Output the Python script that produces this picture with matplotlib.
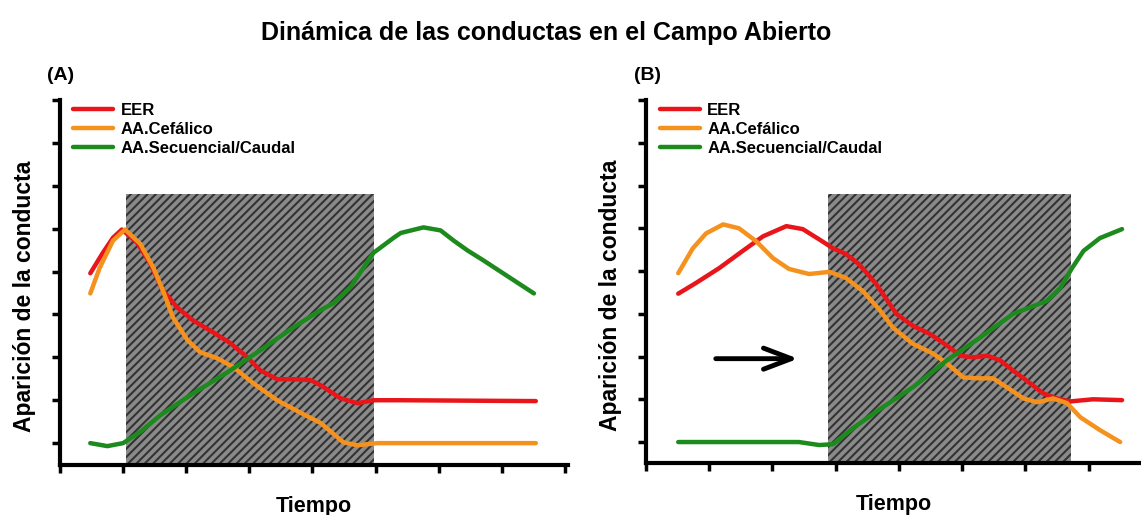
import matplotlib
matplotlib.use("Agg")
import matplotlib.pyplot as plt

plt.rcParams["font.family"] = ["Liberation Sans", "DejaVu Sans"]
plt.rcParams["font.weight"] = "bold"
plt.rcParams["hatch.linewidth"] = 1.5
plt.rcParams["hatch.color"] = "#333333"

TITLE = "Dinámica de las conductas en el Campo Abierto"
YLABEL = "Aparición de la conducta"
XLABEL = "Tiempo"
SERIES = ["EER", "AA.Cefálico", "AA.Secuencial/Caudal"]
COLORS = ["#e8161a", "#f5921e", "#1c8a1c"]

# panel (A)
a_eer_x = [0.48, 0.68, 0.84, 0.98, 1.22, 1.43, 1.63, 1.86, 2.11, 2.43, 2.70, 2.97,
           3.17, 3.44, 3.70, 3.97, 4.13, 4.44, 4.71, 4.97, 5.40, 7.54]
a_eer_y = [4.96, 5.44, 5.79, 5.98, 5.68, 5.19, 4.56, 4.16, 3.86, 3.58, 3.33, 3.00,
           2.70, 2.49, 2.49, 2.47, 2.35, 2.05, 1.93, 2.00, 2.00, 1.98]
a_cef_x = [0.48, 0.63, 0.84, 1.03, 1.27, 1.48, 1.63, 1.79, 2.02, 2.22, 2.49, 2.75,
           3.06, 3.44, 3.81, 4.13, 4.49, 4.71, 5.03, 5.40, 7.54]
a_cef_y = [4.49, 5.09, 5.72, 5.98, 5.65, 5.09, 4.56, 3.93, 3.40, 3.12, 2.98, 2.77,
           2.40, 2.00, 1.71, 1.47, 1.02, 0.95, 1.00, 1.00, 1.00]
a_sec_x = [0.48, 0.75, 1.00, 1.27, 1.59, 2.11, 2.65, 3.17, 3.70, 4.13, 4.33, 4.60,
           4.97, 5.29, 5.40, 5.76, 6.03, 6.24, 6.46, 6.71, 7.51]
a_sec_y = [1.00, 0.93, 1.00, 1.26, 1.65, 2.16, 2.65, 3.16, 3.70, 4.10, 4.26, 4.63,
           5.44, 5.79, 5.90, 6.03, 5.96, 5.72, 5.49, 5.26, 4.49]
a_span = (1.05, 4.98, 6.8)

# panel (B)
b_eer_x = [0.51, 0.79, 1.16, 1.53, 1.85, 2.22, 2.48, 2.74, 2.96, 3.16, 3.37, 3.64,
           3.96, 4.22, 4.49, 4.76, 4.97, 5.17, 5.40, 5.60, 5.81, 6.08, 6.28, 6.50,
           6.71, 7.07, 7.53]
b_eer_y = [4.47, 4.72, 5.07, 5.47, 5.81, 6.05, 5.98, 5.74, 5.53, 5.40, 5.16, 4.70,
           4.00, 3.72, 3.53, 3.26, 3.02, 2.98, 3.02, 2.91, 2.67, 2.37, 2.14, 2.02,
           1.95, 2.00, 1.98]
b_cef_x = [0.51, 0.74, 0.95, 1.22, 1.47, 1.74, 2.01, 2.26, 2.58, 2.90, 3.16, 3.43,
           3.69, 3.91, 4.22, 4.54, 4.76, 5.02, 5.28, 5.49, 5.71, 5.97, 6.19, 6.44,
           6.66, 6.87, 7.18, 7.50]
b_cef_y = [4.95, 5.53, 5.88, 6.09, 6.00, 5.70, 5.30, 5.05, 4.93, 4.98, 4.84, 4.53,
           4.10, 3.67, 3.30, 3.07, 2.84, 2.51, 2.49, 2.49, 2.28, 2.02, 1.93, 2.02,
           1.91, 1.58, 1.28, 1.00]
b_sec_x = [0.51, 1.58, 2.42, 2.74, 2.96, 3.28, 3.69, 4.22, 4.76, 5.28, 5.81, 6.34,
           6.55, 6.74, 6.92, 7.18, 7.53]
b_sec_y = [1.00, 1.00, 1.00, 0.93, 0.95, 1.33, 1.76, 2.28, 2.91, 3.44, 4.00, 4.30,
           4.60, 5.07, 5.47, 5.77, 5.98]
b_span = (2.88, 6.72, 6.8)
b_arrow = (1.06, 2.45, 2.95)

X_TICKS = list(range(0, 9))
Y_TICKS = list(range(1, 10))


def style_axes(ax, xmax, ymin, width_px, height_px):
    ax.set_xlim(0, xmax)
    ax.set_ylim(ymin, 9)
    ax.set_xticks([t for t in X_TICKS if t <= xmax])
    ax.set_yticks(Y_TICKS)
    ax.set_xticklabels([])
    ax.set_yticklabels([])
    for side in ("top", "right"):
        ax.spines[side].set_visible(False)
    for side in ("left", "bottom"):
        ax.spines[side].set_linewidth(3)
    ax.tick_params(direction="out", length=6, width=2.5)
    ax.set_xlabel(XLABEL, fontsize=15.5, fontweight="bold")
    ax.xaxis.set_label_coords(0.5, -47 / height_px)
    ax.xaxis.label.set_va("baseline")
    ax.set_ylabel(YLABEL, fontsize=16.5, fontweight="bold")
    ax.yaxis.set_label_coords(-35 / width_px, 0.463)
    ax.yaxis.label.set_va("center")


def draw_panel(ax, curves, span, label, legend_x):
    x0, x1, top = span
    ax.fill_between([x0, x1], 0, top, facecolor="#8a8a8a", hatch="////",
                    linewidth=0, zorder=1)
    for (xs, ys), name, color in zip(curves, SERIES, COLORS):
        ax.plot(xs, ys, color=color, lw=3.2, label=name, zorder=3,
                solid_capstyle="round", solid_joinstyle="round")
    ax.legend(loc="upper left", bbox_to_anchor=(legend_x, 0.992), frameon=False,
              prop={"weight": "bold", "size": 12}, handlelength=2.4,
              handletextpad=0.45, labelspacing=0.24, borderaxespad=0,
              borderpad=0)
    ax.text(-0.025, 1.068, label, transform=ax.transAxes, fontsize=14,
            fontweight="bold", ha="left", va="center")


fig = plt.figure(figsize=(11.41, 5.15), dpi=100)
ax_a = fig.add_axes([60 / 1141, 50 / 515, 508 / 1141, 365 / 515])
ax_b = fig.add_axes([646 / 1141, 52 / 515, 495 / 1141, 363 / 515])

style_axes(ax_a, 8.05, 0.49, 508, 365)
style_axes(ax_b, 7.83, 0.51, 495, 363)

draw_panel(ax_a, [(a_eer_x, a_eer_y), (a_cef_x, a_cef_y), (a_sec_x, a_sec_y)],
           a_span, "(A)", 0.026)
draw_panel(ax_b, [(b_eer_x, b_eer_y), (b_cef_x, b_cef_y), (b_sec_x, b_sec_y)],
           b_span, "(B)", 0.028)

ax_b.annotate("", xy=(b_arrow[1], b_arrow[2]), xytext=(b_arrow[0], b_arrow[2]),
              arrowprops=dict(arrowstyle="->, head_length=1.0, head_width=0.38",
                              mutation_scale=20, lw=3.5, color="black",
                              capstyle="round"))

fig.text(546 / 1141, 1 - 33 / 515, TITLE, ha="center", va="center", fontsize=18,
         fontweight="bold")

fig.savefig("out.png", dpi=100)
